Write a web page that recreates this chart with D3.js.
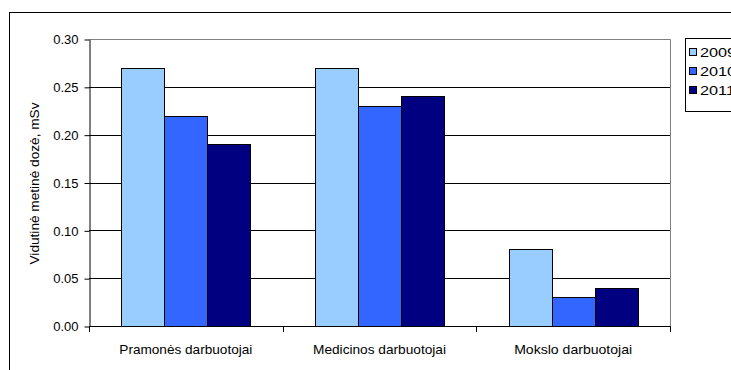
<!DOCTYPE html>
<html><head><meta charset="utf-8">
<script src="https://cdn.jsdelivr.net/npm/d3@7"></script>
<style>
html,body{margin:0;padding:0;background:#fff;overflow:hidden}
svg{display:block;font-family:"Liberation Sans",Arial,sans-serif}
</style></head>
<body>
<script>
// Average annual dose by worker group, 2009-2011
const categories = ["Pramonės darbuotojai", "Medicinos darbuotojai", "Mokslo darbuotojai"];
const years = ["2009", "2010", "2011"];
const v2009 = [0.27, 0.27, 0.08];
const v2010 = [0.22, 0.23, 0.03];
const v2011 = [0.19, 0.24, 0.04];
const yTicks = [0, 0.05, 0.10, 0.15, 0.20, 0.25, 0.30];
const colors = ["#99CCFF", "#3366FF", "#000080"];

const series = [v2009, v2010, v2011];
const W = 731, H = 370;
const FS = 13;
const svg = d3.select("body").append("svg").attr("width", W).attr("height", H);

// outer chart frame
svg.append("rect").attr("x", 9.5).attr("y", 12.5).attr("width", 900).attr("height", 500)
  .attr("fill", "none").attr("stroke", "#000").attr("stroke-width", 1);

const plot = {left: 89, right: 670, top: 39, bottom: 326};
const x = d3.scaleBand().domain(categories).range([plot.left, plot.right]);
const y = d3.scaleLinear().domain([0, 0.30]).range([plot.bottom, plot.top]);

// gridlines
svg.append("g").selectAll("line").data(yTicks.slice(1, -1)).join("line")
  .attr("x1", plot.left).attr("x2", plot.right)
  .attr("y1", d => Math.round(y(d)) + 0.5).attr("y2", d => Math.round(y(d)) + 0.5)
  .attr("stroke", "#000");

// plot area border (top & right)
svg.append("path")
  .attr("d", `M${plot.left},${plot.top + 0.5}H${plot.right + 0.5}V${plot.bottom}`)
  .attr("fill", "none").attr("stroke", "#808080");

// bars
const inner = d3.scaleBand().domain(years)
  .range([0, x.bandwidth()]).paddingInner(0).paddingOuter(0.75);
const g = svg.append("g");
categories.forEach((c, i) => {
  series.forEach((s, j) => {
    const bx = x(c) + inner(years[j]);
    g.append("rect")
      .attr("x", Math.round(bx) + 0.5)
      .attr("y", Math.round(y(s[i])) + 0.5)
      .attr("width", Math.round(bx + inner.bandwidth()) - Math.round(bx))
      .attr("height", Math.round(y(0)) - Math.round(y(s[i])))
      .attr("fill", colors[j]).attr("stroke", "#000").attr("stroke-width", 1);
  });
});

// y axis
const yAxis = d3.axisLeft(y).tickValues(yTicks).tickFormat(d3.format(".2f"))
  .tickSize(5).tickSizeOuter(0).tickPadding(6);
const ya = svg.append("g").attr("transform", `translate(${plot.left + 0.5},0.5)`).call(yAxis);
ya.selectAll("text").attr("font-size", FS).attr("fill", "#000")
  .attr("font-family", "Liberation Sans, Arial, sans-serif");
ya.select(".domain").attr("stroke", "#000");
ya.selectAll(".tick line").attr("stroke", "#000");

// x axis with category boundary ticks
const xa = svg.append("g");
xa.append("line").attr("x1", plot.left).attr("x2", plot.right + 1)
  .attr("y1", plot.bottom + 0.5).attr("y2", plot.bottom + 0.5).attr("stroke", "#000");
const bounds = categories.map(c => x(c)).concat([plot.right]);
xa.selectAll("line.tk").data(bounds).join("line").attr("class", "tk")
  .attr("x1", d => Math.round(d) + 0.5).attr("x2", d => Math.round(d) + 0.5)
  .attr("y1", plot.bottom).attr("y2", plot.bottom + 6).attr("stroke", "#000");
xa.selectAll("text").data(categories).join("text")
  .attr("x", d => x(d) + x.bandwidth() / 2).attr("y", 354)
  .attr("text-anchor", "middle").attr("font-size", FS).attr("fill", "#000")
  .attr("textLength", 133).attr("lengthAdjust", "spacingAndGlyphs")
  .text(d => d);
xa.selectAll("text").filter(d => d === "Mokslo darbuotojai").attr("textLength", 118);

// y axis title
svg.append("text").attr("transform", `translate(39,${(plot.top + plot.bottom) / 2 + 1}) rotate(-90)`)
  .attr("text-anchor", "middle").attr("font-size", FS).attr("fill", "#000")
  .attr("textLength", 162).attr("lengthAdjust", "spacingAndGlyphs")
  .text("Vidutinė metinė dozė, mSv");

// legend
const lg = svg.append("g");
lg.append("rect").attr("x", 685.5).attr("y", 38.5).attr("width", 80).attr("height", 73)
  .attr("fill", "#fff").attr("stroke", "#000");
years.forEach((yr, j) => {
  const cy = 52 + j * 19;
  lg.append("rect").attr("x", 689.5).attr("y", cy - 3.5).attr("width", 7).attr("height", 7)
    .attr("fill", colors[j]).attr("stroke", "#000");
  lg.append("text").attr("transform", `translate(700,${cy + 5}) scale(1.25,1)`)
    .attr("font-size", FS).attr("fill", "#000").text(yr);
});
</script>
</body></html>
